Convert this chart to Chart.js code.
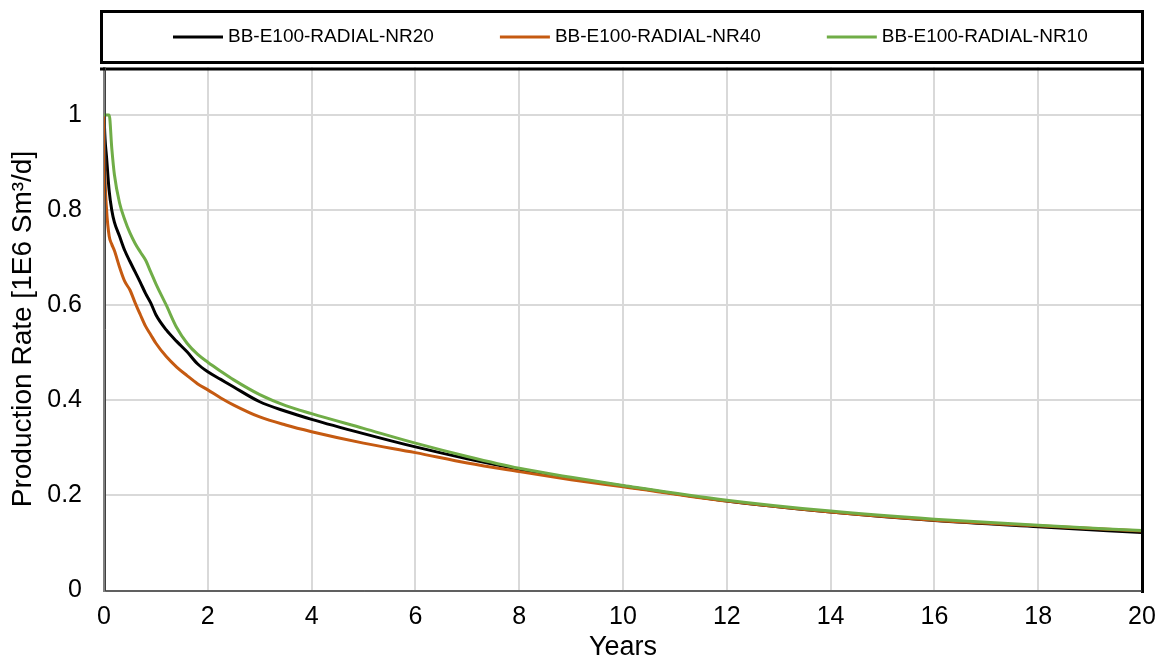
<!DOCTYPE html>
<html>
<head>
<meta charset="utf-8">
<script src="https://cdn.jsdelivr.net/npm/chart.js@4.4.1/dist/chart.umd.min.js"></script>
<style>
  html, body { margin: 0; padding: 0; background: #fff; }
  #wrap { width: 1163px; height: 659px; }
</style>
</head>
<body>
<div id="wrap"><canvas id="chart" width="1163" height="659"></canvas></div>
<script>
// data
var years = [0, 0.02, 0.05, 0.1, 0.15, 0.2, 0.3, 0.4, 0.5, 0.6, 0.7, 0.8, 0.9, 1.0,
             1.2, 1.4, 1.6, 1.8, 2.0, 2.25, 2.5, 3, 3.5, 4, 5, 6, 7, 8, 9, 10,
             12, 14, 16, 18, 20];
var seriesNames = ['BB-E100-RADIAL-NR20', 'BB-E100-RADIAL-NR40', 'BB-E100-RADIAL-NR10'];
var nr20 = [1.0, 0.95, 0.91, 0.84, 0.80, 0.775, 0.745, 0.715, 0.692, 0.67, 0.648, 0.625, 0.605, 0.58,
            0.548, 0.524, 0.502, 0.477, 0.46, 0.444, 0.428, 0.397, 0.377, 0.36, 0.33, 0.302, 0.277, 0.255, 0.236, 0.22,
            0.188, 0.165, 0.147, 0.134, 0.122];
var nr40 = [1.0, 0.87, 0.80, 0.745, 0.728, 0.715, 0.68, 0.65, 0.632, 0.605, 0.58, 0.556, 0.538, 0.52,
            0.492, 0.47, 0.452, 0.435, 0.422, 0.405, 0.39, 0.365, 0.348, 0.334, 0.31, 0.29, 0.268, 0.25, 0.233, 0.218,
            0.188, 0.165, 0.148, 0.136, 0.125];
var nr10 = [1.0, 1.0, 1.0, 1.0, 0.93, 0.875, 0.815, 0.78, 0.752, 0.73, 0.712, 0.695, 0.67, 0.645,
            0.6, 0.553, 0.52, 0.497, 0.48, 0.461, 0.443, 0.412, 0.389, 0.372, 0.341, 0.31, 0.282, 0.257, 0.238, 0.221,
            0.19, 0.167, 0.15, 0.137, 0.126];
var seriesColors = ['#000000', '#c55a11', '#70ad47'];
var xTicks = [0, 2, 4, 6, 8, 10, 12, 14, 16, 18, 20];
var yTicks = [0, 0.2, 0.4, 0.6, 0.8, 1];

var FONT = "'Liberation Sans', Arial, sans-serif";

function toPoints(vals) {
    return vals.map(function(v, i) { return { x: years[i], y: v }; });
}

// legend box + plot frame, drawn like the spreadsheet original
var framePlugin = {
    id: 'frames',
    afterDraw: function(chart) {
        var ctx = chart.ctx, a = chart.chartArea;
        ctx.save();
        // legend box
        ctx.strokeStyle = '#000';
        ctx.lineWidth = 3;
        ctx.strokeRect(101.5, 11.5, a.right - 101, 51);
        // legend entries
        ctx.font = '19px ' + FONT;
        ctx.textBaseline = 'middle';
        var x = 173, y = 37;
        chart.data.datasets.forEach(function(ds) {
            ctx.strokeStyle = ds.borderColor;
            ctx.lineWidth = 3;
            ctx.beginPath();
            ctx.moveTo(x, y);
            ctx.lineTo(x + 50, y);
            ctx.stroke();
            ctx.fillStyle = '#000';
            ctx.fillText(ds.label, x + 55, y);
            x += 55 + ctx.measureText(ds.label).width + 66;
        });
        // plot frame: heavy top and right, thin dark left and bottom
        ctx.strokeStyle = '#000';
        ctx.lineWidth = 3;
        ctx.beginPath();
        ctx.moveTo(a.left - 4, a.top + 1.5);
        ctx.lineTo(a.right + 0.5, a.top + 1.5);
        ctx.lineTo(a.right + 0.5, a.bottom + 2.5);
        ctx.stroke();
        ctx.lineWidth = 1;
        ctx.strokeStyle = '#404040';
        ctx.beginPath();
        ctx.moveTo(a.left + 1.5, a.top);
        ctx.lineTo(a.left + 1.5, a.bottom + 0.5);
        ctx.lineTo(a.right, a.bottom + 0.5);
        ctx.stroke();
        ctx.restore();
    }
};

var ctx = document.getElementById('chart').getContext('2d');
var chart = new Chart(ctx, {
    type: 'line',
    data: {
        datasets: [
            { label: seriesNames[0], data: toPoints(nr20), borderColor: seriesColors[0], order: 3 },
            { label: seriesNames[1], data: toPoints(nr40), borderColor: seriesColors[1], order: 2 },
            { label: seriesNames[2], data: toPoints(nr10), borderColor: seriesColors[2], order: 1 }
        ]
    },
    options: {
        responsive: false,
        animation: false,
        devicePixelRatio: 1,
        layout: { padding: { left: 0, right: 21, top: 67.5, bottom: 0 } },
        elements: {
            line: { borderWidth: 3, tension: 0, cubicInterpolationMode: 'monotone', fill: false },
            point: { radius: 0, hoverRadius: 0 }
        },
        plugins: {
            legend: { display: false },
            tooltip: { enabled: false }
        },
        scales: {
            x: {
                type: 'linear',
                min: 0,
                max: 20,
                afterBuildTicks: function(scale) {
                    scale.ticks = xTicks.map(function(v) { return { value: v }; });
                },
                afterFit: function(scale) {
                    scale.height = 68.5;
                    scale.paddingLeft = 0;
                    scale.paddingRight = 0;
                },
                grid: { color: '#d9d9d9', lineWidth: 2, drawTicks: false },
                border: { color: '#808080', width: 2 },
                ticks: {
                    color: '#000',
                    padding: 12,
                    maxRotation: 0,
                    font: { family: FONT, size: 25 }
                },
                title: {
                    display: true,
                    text: 'Years',
                    color: '#000',
                    font: { family: FONT, size: 27 },
                    padding: { top: 0, bottom: -5 }
                }
            },
            y: {
                min: 0,
                max: 1.1,
                afterBuildTicks: function(scale) {
                    scale.ticks = yTicks.map(function(v) { return { value: v }; });
                },
                afterFit: function(scale) {
                    scale.width = 104;
                    scale.paddingTop = 0;
                    scale.paddingBottom = 0;
                },
                grid: { color: '#d9d9d9', lineWidth: 2, drawTicks: false },
                border: { color: '#808080', width: 2 },
                ticks: {
                    color: '#000',
                    padding: 22,
                    font: { family: FONT, size: 25 },
                    callback: function(v) { return String(+v.toFixed(1)); }
                },
                title: {
                    display: true,
                    text: 'Production Rate [1E6 Sm\u00b3/d]',
                    color: '#000',
                    font: { family: FONT, size: 28 },
                    padding: { top: 6, bottom: 0 }
                }
            }
        }
    },
    plugins: [framePlugin]
});
</script>
</body>
</html>
